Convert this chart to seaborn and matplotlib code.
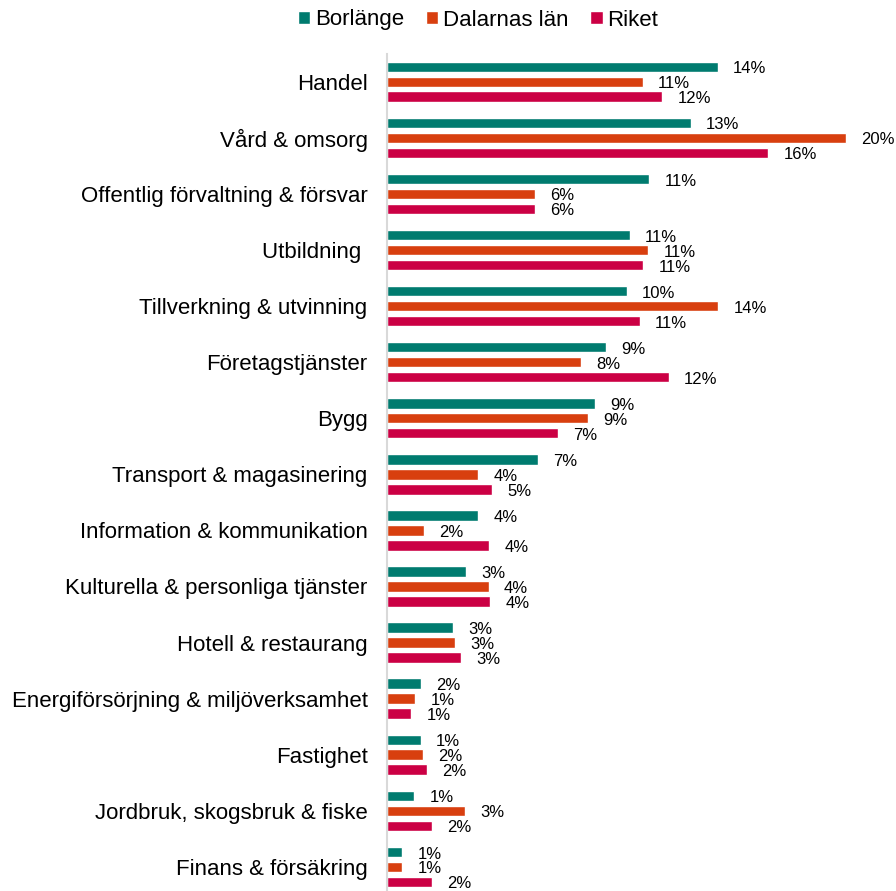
import numpy as np
import pandas as pd
import matplotlib
matplotlib.use('Agg')
import matplotlib.pyplot as plt
import seaborn as sns

# branscher, uppifrån och ned
branscher = ['Handel', 'Vård & omsorg', 'Offentlig förvaltning & försvar', 'Utbildning ',
             'Tillverkning & utvinning', 'Företagstjänster', 'Bygg', 'Transport & magasinering',
             'Information & kommunikation', 'Kulturella & personliga tjänster',
             'Hotell & restaurang', 'Energiförsörjning & miljöverksamhet', 'Fastighet',
             'Jordbruk, skogsbruk & fiske', 'Finans & försäkring']
omraden = ['Borlänge', 'Dalarnas län', 'Riket']

# andel sysselsatta (%)
borlange = [14.25, 13.10, 11.31, 10.46, 10.34, 9.44, 8.98, 6.51, 3.92, 3.42, 2.83, 1.47, 1.45, 1.18, 0.65]
dalarna = [11.02, 19.77, 6.39, 11.25, 14.27, 8.35, 8.65, 3.94, 1.58, 4.38, 2.94, 1.22, 1.55, 3.38, 0.65]
riket = [11.87, 16.44, 6.37, 11.05, 10.89, 12.14, 7.36, 4.53, 4.41, 4.45, 3.20, 1.05, 1.72, 1.95, 1.95]

# etiketter som de står i diagrammet
etikett_borlange = [14, 13, 11, 11, 10, 9, 9, 7, 4, 3, 3, 2, 1, 1, 1]
etikett_dalarna = [11, 20, 6, 11, 14, 8, 9, 4, 2, 4, 3, 1, 2, 3, 1]
etikett_riket = [12, 16, 6, 11, 11, 12, 7, 5, 4, 4, 3, 1, 2, 2, 2]

farger = ['#007b6f', '#d83f0f', '#cb0044']

df = pd.DataFrame({
    'Bransch': branscher * 3,
    'Område': np.repeat(omraden, len(branscher)),
    'Andel': borlange + dalarna + riket,
})

sns.set_theme(style='white')
plt.rcParams['font.family'] = ['Liberation Sans', 'DejaVu Sans']

W, H = 896, 891
fig = plt.figure(figsize=(W / 100, H / 100), dpi=100)
ax = fig.add_axes([387 / W, 0, 493 / W, 1 - 53.7 / H])

sns.barplot(data=df, y='Bransch', x='Andel', hue='Område', orient='h',
            palette=farger, width=0.8, gap=0.3, saturation=1, ax=ax, legend=True)

for cont, lab in zip(ax.containers, [etikett_borlange, etikett_dalarna, etikett_riket]):
    texter = ax.bar_label(cont, labels=[f'{v}%' for v in lab], padding=11, fontsize=12, color='black')
    for t in texter:
        t.xyann = (11, -1.5)  # lite under stapelns mitt, som i originalet

ax.set_xlim(0, 493 / 23.2)
ax.set_ylim(14.43, -0.5)
ax.set_xlabel('')
ax.set_ylabel('')
ax.set_xticks([])
ax.tick_params(axis='y', length=0, labelsize=16, pad=14, labelcolor='black')
for s in ['top', 'right', 'bottom']:
    ax.spines[s].set_visible(False)
ax.spines['left'].set_color('#d9d9d9')
ax.spines['left'].set_linewidth(1.5)

handles, labels = ax.get_legend_handles_labels()
ax.legend_.remove()
fig.legend(handles, labels, loc='center', bbox_to_anchor=(478 / W, 1 - 20 / H), ncol=3,
           frameon=False, fontsize=16, handlelength=0.55, handleheight=0.55,
           handletextpad=0.2, columnspacing=1.0, labelcolor='black')

fig.savefig('out.png', dpi=100)
